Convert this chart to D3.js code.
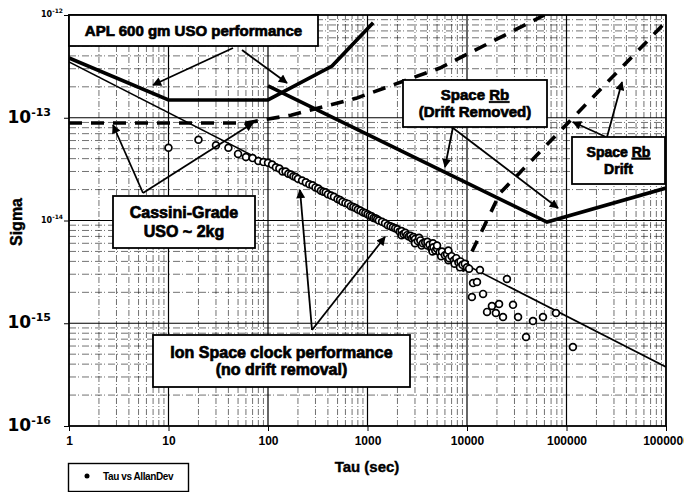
<!DOCTYPE html>
<html>
<head>
<meta charset="utf-8">
<script src="https://cdn.jsdelivr.net/npm/d3@7"></script>
<style>
  body { margin: 0; background: #fff; }
  svg { display: block; font-family: "Liberation Sans", Arial, sans-serif; }
</style>
</head>
<body>
<div id="chart"></div>
<script>
// ---- data: [tau (s), Allan deviation] ----
const ionBand = [
  [10,5.1e-14],[20,6.1e-14],[30,5.4e-14],[40,5.1e-14],[50,4.45e-14],[60,4.15e-14],[70,4.05e-14],[80,3.8e-14],[90,3.7e-14],[100,3.65e-14],
  [110,3.5e-14],[120,3.3e-14],[130,3.2e-14],[140,3.0e-14],[150,3.0e-14],[160,2.85e-14],[170,2.8e-14],[180,2.7e-14],[190,2.65e-14],[200,2.55e-14],
  [220,2.45e-14],[240,2.35e-14],[260,2.25e-14],[280,2.2e-14],[300,2.1e-14],[320,2.05e-14],[340,1.95e-14],[360,1.9e-14],[380,1.88e-14],[400,1.8e-14],
  [430,1.75e-14],[460,1.7e-14],[500,1.62e-14],[530,1.58e-14],[560,1.52e-14],[600,1.48e-14],[640,1.45e-14],[680,1.38e-14],[720,1.35e-14],[760,1.32e-14],
  [800,1.28e-14],[850,1.25e-14],[900,1.2e-14],[950,1.18e-14],[1000,1.15e-14],[1050,1.12e-14],[1100,1.1e-14],[1150,1.06e-14],[1200,1.05e-14],[1250,1.03e-14],
  [1300,1.0e-14],[1400,9.7e-15],[1500,9.4e-15],[1600,9.0e-15],[1700,8.8e-15],[1800,8.6e-15],[1900,8.4e-15],[2000,8.2e-15],[2100,7.8e-15],[2200,7.9e-15],
  [2200,7.2e-15],[2300,7.4e-15],[2400,7.6e-15],[2500,7.2e-15],[2600,7.0e-15],[2700,7.1e-15],[2800,6.7e-15],[2900,6.9e-15],[3000,6.6e-15],[3000,6.0e-15],
  [3200,6.3e-15],[3300,6.8e-15],[3400,6.4e-15],[3500,5.7e-15],[3600,6.0e-15],[3800,6.1e-15],[4000,5.7e-15],[4000,6.2e-15],[4200,5.8e-15],[4400,5.3e-15],
  [4500,5.0e-15],[4550,6.0e-15],[4600,5.5e-15],[4800,5.1e-15],[5000,5.3e-15],[5000,5.7e-15],[5300,4.9e-15],[5500,4.5e-15],[5600,5.0e-15],[6000,4.6e-15],
  [6300,4.7e-15],[6500,4.1e-15],[6500,5.1e-15],[6600,4.3e-15],[7000,4.5e-15],[7400,4.1e-15],[7500,3.8e-15],[7800,4.3e-15],[8200,3.9e-15],[8500,3.5e-15],
  [8600,4.0e-15],[9000,3.7e-15],[9500,3.8e-15],[10000,3.5e-15],[10500,3.4e-15]
];
const ionScatter = [
  [11500,2.46e-15],[12600,2.52e-15],[11200,1.8e-15],[14500,1.93e-15],[25200,2.7e-15],[17800,1.47e-15],
  [21000,1.54e-15],[15900,1.29e-15],[19500,1.26e-15],[29000,1.51e-15],[23000,1.15e-15],[32600,1.15e-15],
  [46000,1.05e-15],[58000,1.15e-15],[78400,1.26e-15],[39200,7.35e-16],[116000,5.87e-16],[13500,3.3e-15]
];
const ionFit         = [[1,3.5e-13],[1e6,3.75e-16]];
const aplUso         = [[1,3.82e-13],[10,1.49e-13],[100,1.49e-13],[440,3.19e-13],[1140,8.4e-13]];
const rbDriftRemoved = [[100,2.04e-13],[63700,9.66e-15],[1e6,2.07e-14]];
const cassiniUso     = [[1,8.9e-14],[60,8.9e-14],[170,1.06e-13],[785,1.56e-13],[5350,3.05e-13],[60000,1.0e-12]];
const rbDrift        = [[9000,3.2e-15],[21500,1.85e-14],[1e6,8.6e-13]];

const xTicks = [1,10,100,1000,10000,100000,1000000];
const yExps  = [-12,-13,-14,-15,-16];
const bigExps = new Set([-13,-15,-16]);

// ---- annotation layout (pixels) ----
const boxes = [
  { x: 69,  y: 15,  w: 249, h: 31, size: 15, lh: 17, lines: ["APL 600 gm USO performance"] },
  { x: 403, y: 80,  w: 144, h: 47, size: 15, lh: 17, lines: ["Space Rb", "(Drift Removed)"] },
  { x: 572, y: 137, w: 93,  h: 47, size: 14, lh: 17, lines: ["Space Rb", "Drift"] },
  { x: 113, y: 196, w: 142, h: 52, size: 16, lh: 19, lines: ["Cassini-Grade", "USO ~ 2kg"] },
  { x: 153, y: 335, w: 257, h: 52, size: 16, lh: 17, lines: ["Ion Space clock performance", "(no drift removal)"] }
];
const arrows = [
  [233,48,153,85],[242,50,287,83],
  [143,193,113,125],[143,193,253,123],
  [312,330,300,190],[312,330,385,237],
  [453,127,445,167],[453,128,558,208],
  [607,137,622,82],[606,137,573,122]
];

const W = 684, H = 492;
const x = d3.scaleLog().domain([1, 1e6]).range([69, 666]);
const y = d3.scaleLog().domain([1e-16, 1e-12]).range([426, 15]);
const [x0, x1] = x.range(), [y0, y1] = y.range();

const svg = d3.select("#chart").append("svg")
  .attr("width", W).attr("height", H).attr("viewBox", `0 0 ${W} ${H}`);
svg.append("rect").attr("width", W).attr("height", H).attr("fill", "#fff");

const defs = svg.append("defs");
defs.append("clipPath").attr("id", "plot")
  .append("rect").attr("x", x0).attr("y", y1).attr("width", x1 - x0).attr("height", y0 - y1);
defs.append("marker").attr("id", "ah")
  .attr("viewBox", "0 0 10 10").attr("refX", 9).attr("refY", 5)
  .attr("markerUnits", "userSpaceOnUse").attr("markerWidth", 10).attr("markerHeight", 9)
  .attr("orient", "auto")
  .append("path").attr("d", "M0,0L10,5L0,10z").attr("fill", "#000");

const isMajor = v => Math.abs(Math.log10(v) - Math.round(Math.log10(v))) < 1e-9;

// grid: solid decades, broken minor lines like the scan
const grid = svg.append("g");
grid.selectAll(".gx").data(x.ticks()).join("line")
  .attr("x1", d => x(d)).attr("x2", d => x(d)).attr("y1", y0).attr("y2", y1)
  .attr("stroke", "#000")
  .attr("stroke-width", d => isMajor(d) ? 1.2 : 0.8)
  .attr("stroke-opacity", d => isMajor(d) ? 1 : 0.7)
  .attr("stroke-dasharray", d => isMajor(d) ? null : "6,2,1,2");
grid.selectAll(".gy").data(y.ticks()).join("line")
  .attr("y1", d => y(d)).attr("y2", d => y(d)).attr("x1", x0).attr("x2", x1)
  .attr("stroke", "#000")
  .attr("stroke-width", d => isMajor(d) ? 1.2 : 0.8)
  .attr("stroke-opacity", d => isMajor(d) ? 1 : 0.7)
  .attr("stroke-dasharray", d => isMajor(d) ? null : "7,2,1,3");

// axes
const xAxis = svg.append("g").attr("transform", `translate(0,${y0})`)
  .call(d3.axisBottom(x).tickValues(xTicks).tickFormat(d3.format("d")).tickSize(5).tickPadding(5));
xAxis.select(".domain").remove();
xAxis.selectAll("text")
  .attr("font-family", "'Liberation Sans Narrow', 'Liberation Sans', Arial, sans-serif")
  .attr("font-weight", "bold").attr("font-size", 12).attr("fill", "#000");

const yAxis = svg.append("g").attr("transform", `translate(${x0},0)`)
  .call(d3.axisLeft(y).tickValues(yExps.map(e => Math.pow(10, e))).tickFormat(() => "").tickSize(5));
yAxis.select(".domain").remove();

const yLab = svg.append("g").attr("font-family", "'DejaVu Sans', sans-serif").attr("font-weight", "bold");
yExps.forEach(e => {
  const big = bigExps.has(e);
  const t = yLab.append("text")
    .attr("x", big ? 51 : 63)
    .attr("y", y(Math.pow(10, e)) + (big ? 5 : 2))
    .attr("text-anchor", "end")
    .attr("font-size", big ? 17 : 8);
  t.append("tspan").text("10");
  t.append("tspan").attr("dy", big ? -7 : -4).attr("font-size", big ? 11 : 6).text(String(e));
});

// frame
svg.append("rect").attr("x", x0).attr("y", y1).attr("width", x1 - x0).attr("height", y0 - y1)
  .attr("fill", "none").attr("stroke", "#000").attr("stroke-width", 1.6);

// series
const plot = svg.append("g").attr("clip-path", "url(#plot)");
const line = d3.line().x(d => x(d[0])).y(d => y(d[1]));

plot.append("path").attr("d", line(ionFit)).attr("fill", "none").attr("stroke", "#000").attr("stroke-width", 1.6);
plot.append("path").attr("d", line(cassiniUso)).attr("fill", "none").attr("stroke", "#000")
  .attr("stroke-width", 3.6).attr("stroke-dasharray", "13,9");
plot.append("path").attr("d", line(rbDrift)).attr("fill", "none").attr("stroke", "#000")
  .attr("stroke-width", 3.6).attr("stroke-dasharray", "12,10");
plot.append("path").attr("d", line(aplUso)).attr("fill", "none").attr("stroke", "#000").attr("stroke-width", 3.6);
plot.append("path").attr("d", line(rbDriftRemoved)).attr("fill", "none").attr("stroke", "#000").attr("stroke-width", 3.6);

plot.append("g").selectAll("circle").data(ionBand.concat(ionScatter)).join("circle")
  .attr("cx", d => x(d[0])).attr("cy", d => y(d[1])).attr("r", 3.4)
  .attr("fill", "#fff").attr("stroke", "#000").attr("stroke-width", 1.7);

// annotations
const ann = svg.append("g");
ann.selectAll("line").data(arrows).join("line")
  .attr("x1", d => d[0]).attr("y1", d => d[1]).attr("x2", d => d[2]).attr("y2", d => d[3])
  .attr("stroke", "#000").attr("stroke-width", 1.8).attr("marker-end", "url(#ah)");

boxes.forEach(b => {
  ann.append("rect").attr("x", b.x).attr("y", b.y).attr("width", b.w).attr("height", b.h)
    .attr("fill", "#fff").attr("stroke", "#000").attr("stroke-width", 1.8);
  const cx = b.x + b.w / 2, cy = b.y + b.h / 2, n = b.lines.length;
  b.lines.forEach((ln, i) => {
    const t = ann.append("text")
      .attr("x", cx)
      .attr("y", cy + (i - (n - 1) / 2) * b.lh + 0.35 * b.size)
      .attr("text-anchor", "middle")
      .attr("font-size", b.size).attr("font-weight", "bold")
      .attr("stroke", "#000").attr("stroke-width", 0.7);
    ln.split(/(Rb)/).forEach(p => {
      if (!p) return;
      const s = t.append("tspan").text(p);
      if (p === "Rb") s.attr("text-decoration", "underline");
    });
  });
});

// axis titles
svg.append("text").attr("x", 367).attr("y", 472).attr("text-anchor", "middle")
  .attr("font-size", 15).attr("font-weight", "bold").attr("stroke", "#000").attr("stroke-width", 0.4)
  .text("Tau (sec)");
svg.append("text").attr("transform", "translate(22,222) rotate(-90)").attr("text-anchor", "middle")
  .attr("font-size", 16).attr("font-weight", "bold").attr("stroke", "#000").attr("stroke-width", 0.4)
  .text("Sigma");

// legend
const lg = svg.append("g");
lg.append("rect").attr("x", 68.5).attr("y", 463.5).attr("width", 120).attr("height", 28)
  .attr("fill", "#fff").attr("stroke", "#000").attr("stroke-width", 1.4);
lg.append("circle").attr("cx", 87).attr("cy", 476).attr("r", 2.5).attr("fill", "#000");
lg.append("text").attr("x", 103).attr("y", 480)
  .attr("font-family", "'Liberation Sans Narrow', 'Liberation Sans', Arial, sans-serif")
  .attr("font-size", 10).attr("font-weight", "bold").attr("letter-spacing", -0.4)
  .text("Tau vs AllanDev");
</script>
</body>
</html>
